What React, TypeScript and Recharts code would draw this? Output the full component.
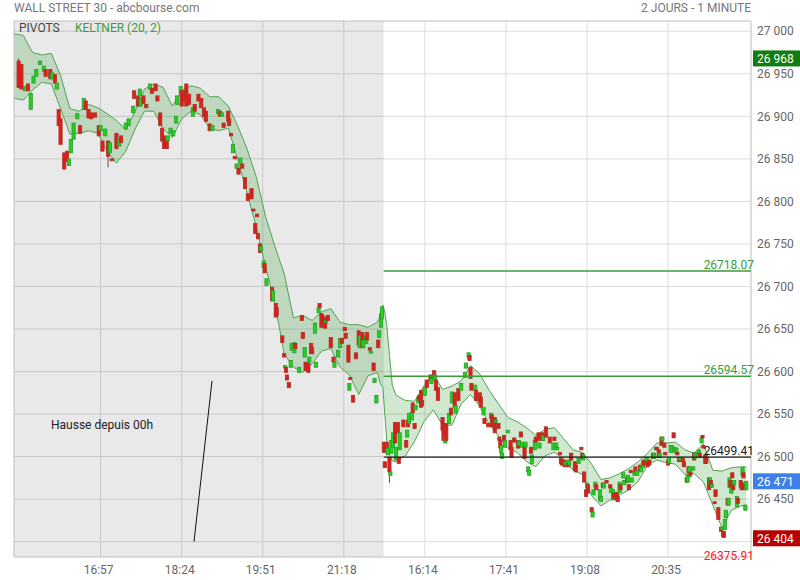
import React from 'react';
import {
  ComposedChart,
  Area,
  Bar,
  XAxis,
  YAxis,
  CartesianGrid,
  ReferenceArea,
  ReferenceLine,
  ReferenceDot,
} from 'recharts';

// ---- axis / labels ----
const timeTicks = [93, 180, 267, 354, 441, 528, 615, 702];
const timeLabels = ['16:57', '18:24', '19:51', '21:18', '16:14', '17:41', '19:08', '20:35'];
const priceTicks = [26400, 26450, 26500, 26550, 26600, 26650, 26700, 26750, 26800, 26850, 26900, 26950, 27000];
const priceDomain = [26382, 27012];
const xMax = 791;
const sessionSplit = 396.8;

// ---- pivots ----
const pivotLevels = [26718.07, 26594.57, 26499.41, 26375.91];
const pivotTexts = ['26718.07', '26594.57', '26499.41', '26375.91'];
const pivotColors = ['#3b9b3b', '#3b9b3b', '#1a1a1a', '#ff2222'];

// ---- price tags (high, last, low) ----
const tagValues = [26968, 26471, 26404];
const tagColors = ['#0f7d0f', '#3f7fe8', '#b80000'];

// ---- Keltner (20, 2) band ----
const bandIdx = [0, 10, 20, 30, 40, 50, 60, 70, 80, 90, 100, 110, 120, 130, 140, 150, 160, 170, 180, 190, 200, 210, 220, 230, 240, 250, 260, 270, 280, 290, 300, 310, 320, 330, 340, 350, 360, 370, 380, 390, 393, 396, 398, 400, 403, 406, 410, 420, 430, 440, 450, 460, 470, 480, 490, 500, 510, 520, 530, 540, 550, 560, 570, 580, 590, 600, 610, 620, 630, 640, 650, 660, 670, 680, 690, 700, 710, 720, 730, 740, 750, 760, 770, 780, 786];
const bandUpper = [26997, 26995, 26975, 26972, 26974, 26948, 26909, 26906, 26914, 26910, 26903, 26895, 26884, 26906, 26932, 26938, 26934, 26912, 26930, 26936, 26933, 26923, 26923, 26912, 26889, 26862, 26829, 26782, 26747, 26715, 26663, 26666, 26660, 26670, 26674, 26658, 26655, 26655, 26652, 26658, 26665, 26678, 26670, 26655, 26619, 26584, 26572, 26566, 26565, 26583, 26597, 26579, 26583, 26589, 26607, 26597, 26578, 26562, 26546, 26541, 26534, 26525, 26532, 26534, 26521, 26508, 26505, 26491, 26473, 26475, 26480, 26486, 26494, 26504, 26516, 26516, 26517, 26508, 26504, 26515, 26484, 26483, 26487, 26488, 26488];
const bandLower = [26921, 26919, 26931, 26940, 26938, 26909, 26879, 26880, 26883, 26880, 26859, 26845, 26859, 26885, 26906, 26906, 26885, 26875, 26897, 26906, 26902, 26886, 26883, 26886, 26850, 26810, 26770, 26723, 26680, 26621, 26605, 26599, 26609, 26624, 26627, 26605, 26596, 26573, 26595, 26599, 26586, 26581, 26549, 26519, 26502, 26495, 26494, 26501, 26518, 26541, 26555, 26537, 26537, 26562, 26573, 26559, 26538, 26524, 26510, 26505, 26494, 26488, 26501, 26505, 26497, 26484, 26479, 26454, 26442, 26449, 26455, 26461, 26471, 26490, 26496, 26493, 26491, 26479, 26480, 26470, 26443, 26416, 26437, 26442, 26443];

// ---- candles, session 1 ----
const day1Idx = [5, 8, 12, 15, 18, 21, 24, 28, 32, 34, 39, 41, 44, 46, 48, 50, 54, 57, 59, 61, 64, 68, 71, 75, 77, 80, 83, 87, 91, 93, 95, 98, 101, 103, 105, 110, 113, 115, 120, 123, 128, 129, 133, 135, 136, 139, 142, 146, 148, 152, 154, 157, 159, 161, 164, 165, 168, 171, 174, 175, 179, 180, 182, 185, 188, 192, 194, 198, 201, 204, 206, 210, 213, 219, 221, 223, 225, 230, 231, 233, 235, 237, 239, 241, 243, 245, 248, 251, 255, 257, 259, 261, 262, 264, 265, 268, 269, 271, 277, 278, 281, 282, 288, 290, 291, 292, 293, 295, 297, 298, 301, 302, 306, 309, 310, 312, 313, 316, 317, 319, 320, 323, 324, 327, 328, 330, 331, 334, 335, 337, 340, 343, 344, 348, 350, 352, 355, 356, 359, 360, 361, 364, 367, 370, 371, 374, 375, 378, 379, 382, 383, 386, 387, 389, 391, 392, 394, 395];
const day1Open = [26965, 26961, 26930, 26938, 26908, 26939, 26947, 26961, 26953, 26955, 26955, 26944, 26949, 26932, 26908, 26897, 26857, 26859, 26842, 26857, 26873, 26897, 26889, 26908, 26918, 26908, 26904, 26904, 26889, 26883, 26871, 26877, 26871, 26857, 26850, 26880, 26865, 26877, 26885, 26889, 26904, 26930, 26924, 26924, 26912, 26924, 26914, 26932, 26933, 26938, 26924, 26904, 26886, 26877, 26871, 26871, 26880, 26877, 26892, 26914, 26927, 26930, 26930, 26938, 26926, 26900, 26914, 26926, 26921, 26910, 26906, 26891, 26883, 26903, 26906, 26900, 26892, 26906, 26897, 26880, 26857, 26853, 26839, 26839, 26845, 26844, 26828, 26809, 26815, 26791, 26774, 26785, 26762, 26750, 26742, 26722, 26727, 26701, 26699, 26683, 26680, 26675, 26642, 26621, 26604, 26605, 26596, 26587, 26605, 26625, 26622, 26633, 26599, 26666, 26646, 26617, 26611, 26610, 26611, 26633, 26628, 26645, 26605, 26669, 26680, 26668, 26666, 26664, 26658, 26666, 26640, 26617, 26605, 26617, 26628, 26639, 26652, 26645, 26631, 26578, 26593, 26572, 26622, 26648, 26628, 26646, 26628, 26633, 26646, 26628, 26622, 26610, 26587, 26563, 26637, 26640, 26652, 26662];
const day1Close = [26934, 26932, 26935, 26930, 26927, 26947, 26955, 26965, 26959, 26947, 26944, 26951, 26939, 26939, 26889, 26867, 26838, 26847, 26850, 26873, 26892, 26903, 26880, 26921, 26908, 26898, 26897, 26899, 26877, 26889, 26859, 26885, 26853, 26869, 26848, 26862, 26873, 26869, 26892, 26897, 26912, 26921, 26912, 26932, 26921, 26915, 26910, 26938, 26927, 26930, 26918, 26889, 26871, 26862, 26862, 26877, 26886, 26883, 26900, 26924, 26935, 26912, 26918, 26912, 26914, 26910, 26906, 26918, 26910, 26900, 26894, 26883, 26889, 26908, 26900, 26904, 26887, 26894, 26889, 26877, 26867, 26850, 26844, 26832, 26851, 26839, 26815, 26801, 26803, 26789, 26762, 26782, 26756, 26740, 26747, 26730, 26716, 26709, 26683, 26695, 26664, 26666, 26634, 26617, 26607, 26599, 26590, 26581, 26613, 26633, 26634, 26627, 26605, 26660, 26639, 26628, 26601, 26599, 26617, 26621, 26621, 26657, 26611, 26675, 26675, 26652, 26660, 26651, 26660, 26660, 26628, 26611, 26611, 26625, 26639, 26633, 26648, 26639, 26611, 26586, 26591, 26564, 26615, 26631, 26642, 26628, 26637, 26642, 26637, 26625, 26624, 26601, 26592, 26572, 26628, 26648, 26668, 26676];

// ---- candles, session 2 ----
const day2Idx = [397, 398, 400, 401, 403, 404, 405, 407, 409, 410, 412, 413, 414, 418, 421, 422, 423, 424, 427, 428, 430, 431, 434, 435, 437, 438, 441, 443, 447, 448, 451, 452, 453, 455, 460, 461, 463, 464, 467, 469, 470, 473, 474, 477, 480, 484, 485, 488, 489, 490, 491, 495, 496, 500, 501, 504, 505, 509, 512, 513, 516, 517, 520, 521, 522, 523, 524, 526, 527, 530, 533, 534, 537, 541, 542, 544, 545, 548, 549, 552, 553, 555, 556, 559, 560, 563, 564, 567, 568, 571, 575, 579, 580, 582, 583, 586, 587, 588, 591, 592, 595, 596, 598, 602, 603, 606, 609, 610, 611, 612, 614, 615, 616, 620, 621, 622, 624, 625, 629, 630, 632, 633, 636, 640, 641, 643, 644, 647, 648, 650, 651, 654, 655, 658, 659, 660, 662, 663, 666, 667, 669, 672, 673, 675, 676, 679, 680, 682, 686, 687, 689, 690, 692, 693, 695, 696, 698, 699, 702, 703, 705, 706, 708, 709, 711, 712, 714, 715, 718, 719, 722, 723, 724, 725, 726, 729, 730, 731, 732, 735, 736, 738, 739, 740, 742, 743, 746, 747, 748, 749, 752, 753, 756, 759, 760, 761, 762, 763, 764, 766, 767, 768, 769, 770, 771, 772, 773, 776, 777, 780, 781, 782, 783, 784, 785, 786];
const day2Open = [26517, 26494, 26517, 26502, 26499, 26478, 26504, 26511, 26540, 26496, 26540, 26499, 26508, 26543, 26519, 26523, 26543, 26539, 26543, 26563, 26539, 26555, 26563, 26572, 26578, 26566, 26572, 26590, 26596, 26586, 26601, 26590, 26590, 26581, 26546, 26531, 26516, 26539, 26539, 26557, 26563, 26575, 26551, 26580, 26578, 26593, 26604, 26616, 26619, 26605, 26586, 26578, 26578, 26575, 26570, 26549, 26545, 26539, 26545, 26549, 26546, 26540, 26539, 26523, 26519, 26504, 26498, 26525, 26511, 26528, 26519, 26511, 26522, 26519, 26513, 26529, 26511, 26511, 26511, 26482, 26478, 26511, 26492, 26508, 26523, 26528, 26510, 26528, 26519, 26535, 26523, 26508, 26523, 26511, 26508, 26505, 26498, 26496, 26496, 26490, 26492, 26490, 26504, 26494, 26490, 26492, 26511, 26504, 26496, 26482, 26461, 26463, 26467, 26440, 26429, 26455, 26464, 26467, 26449, 26447, 26469, 26463, 26472, 26467, 26458, 26449, 26457, 26458, 26453, 26458, 26467, 26475, 26467, 26475, 26470, 26467, 26484, 26470, 26478, 26488, 26478, 26490, 26482, 26487, 26496, 26494, 26494, 26496, 26504, 26498, 26508, 26511, 26508, 26499, 26523, 26519, 26516, 26505, 26496, 26492, 26505, 26508, 26528, 26505, 26504, 26505, 26499, 26496, 26498, 26494, 26475, 26470, 26488, 26476, 26482, 26484, 26504, 26498, 26502, 26504, 26504, 26516, 26525, 26513, 26502, 26498, 26475, 26469, 26472, 26464, 26447, 26461, 26440, 26417, 26414, 26412, 26412, 26414, 26428, 26451, 26443, 26464, 26472, 26457, 26481, 26469, 26467, 26441, 26451, 26472, 26469, 26478, 26481, 26469, 26437, 26461];
const day2Close = [26505, 26487, 26505, 26510, 26482, 26482, 26519, 26528, 26516, 26511, 26528, 26492, 26528, 26535, 26511, 26531, 26535, 26551, 26552, 26552, 26533, 26560, 26570, 26566, 26558, 26560, 26581, 26581, 26590, 26592, 26593, 26596, 26578, 26566, 26531, 26519, 26523, 26519, 26551, 26549, 26576, 26558, 26560, 26566, 26586, 26599, 26610, 26622, 26613, 26592, 26578, 26584, 26566, 26564, 26558, 26558, 26539, 26535, 26551, 26535, 26528, 26543, 26533, 26519, 26510, 26513, 26504, 26519, 26519, 26531, 26508, 26499, 26517, 26510, 26519, 26523, 26517, 26498, 26517, 26488, 26484, 26504, 26502, 26519, 26517, 26519, 26516, 26519, 26525, 26523, 26516, 26516, 26519, 26516, 26511, 26502, 26492, 26490, 26488, 26494, 26488, 26496, 26496, 26484, 26482, 26498, 26508, 26498, 26502, 26470, 26453, 26469, 26457, 26435, 26435, 26461, 26470, 26461, 26461, 26453, 26464, 26469, 26469, 26463, 26463, 26461, 26451, 26449, 26447, 26470, 26461, 26481, 26472, 26470, 26478, 26461, 26481, 26475, 26482, 26482, 26484, 26484, 26488, 26494, 26490, 26499, 26488, 26490, 26498, 26504, 26511, 26508, 26499, 26504, 26513, 26523, 26511, 26502, 26490, 26498, 26513, 26513, 26522, 26511, 26510, 26502, 26494, 26499, 26494, 26488, 26470, 26478, 26481, 26488, 26478, 26488, 26496, 26504, 26505, 26508, 26499, 26522, 26522, 26510, 26492, 26492, 26461, 26475, 26464, 26467, 26445, 26453, 26426, 26412, 26417, 26406, 26405, 26426, 26437, 26443, 26451, 26475, 26464, 26464, 26475, 26461, 26472, 26453, 26445, 26464, 26461, 26487, 26475, 26461, 26443, 26471];

// ---- visible wicks ----
const wickIdx = [5, 101, 403, 761];
const wickHigh = [26968, 26871, 26499, 26412];
const wickLow = [26934, 26840, 26469, 26404];

// ---- annotation ----
const noteText = 'Hausse depuis 00h';
const notePos = { x: 39.7, y: 26537 };
const trendFrom = { x: 193.2, y: 26400 };
const trendTo = { x: 212.5, y: 26589 };

type Row = { i: number; band?: [number, number]; o?: number; c?: number; hi?: number; lo?: number };

function buildRows(): Row[] {
  const map = new Map<number, Row>();
  const get = (i: number) => {
    if (!map.has(i)) map.set(i, { i });
    return map.get(i)!;
  };
  bandIdx.forEach((i, k) => {
    get(i).band = [bandLower[k], bandUpper[k]];
  });
  const add = (idx: number[], op: number[], cl: number[]) =>
    idx.forEach((i, k) => {
      const r = get(i);
      r.o = op[k];
      r.c = cl[k];
      r.hi = Math.max(op[k], cl[k]);
      r.lo = Math.min(op[k], cl[k]);
    });
  add(day1Idx, day1Open, day1Close);
  add(day2Idx, day2Open, day2Close);
  wickIdx.forEach((i, k) => {
    const r = get(i);
    if (r.hi != null) r.hi = Math.max(r.hi, wickHigh[k]);
    if (r.lo != null) r.lo = Math.min(r.lo, wickLow[k]);
  });
  return Array.from(map.values()).sort((a, b) => a.i - b.i);
}

const rows = buildRows();

const GREEN = '#1fd41f';
const GREEN_D = '#2b9a2b';
const RED = '#e01d1d';
const RED_D = '#a83222';
const CANDLE_W = 4;

const CandleShape = (props: any) => {
  const { x, y, width, height, payload } = props;
  if (!payload || payload.o == null || x == null || y == null || isNaN(y)) return null;
  let top = y;
  let h = height || 0;
  if (h < 0) {
    top = y + h;
    h = -h;
  }
  const { o, c, hi, lo } = payload;
  const span = hi - lo;
  const py = (v: number) => (span > 0 ? top + ((hi - v) / span) * h : top);
  const up = c >= o;
  const bTop = py(Math.max(o, c));
  const bBot = py(Math.min(o, c));
  const cx = x + (width || 0) / 2;
  const hasWick = hi > Math.max(o, c) || lo < Math.min(o, c);
  return (
    <g>
      {hasWick && <line x1={cx} x2={cx} y1={top} y2={top + h} stroke="#555" strokeWidth={1} />}
      <rect
        x={cx - CANDLE_W / 2 + 0.4}
        y={bTop}
        width={CANDLE_W - 0.8}
        height={Math.max(bBot - bTop, 2)}
        fill={up ? GREEN : RED}
        stroke={up ? GREEN_D : RED_D}
        strokeWidth={0.8}
      />
    </g>
  );
};

const fmtPrice = (v: number) => {
  const th = Math.floor(v / 1000);
  const rest = String(Math.round(v) % 1000).padStart(3, '0');
  return `${th} ${rest}`;
};

// axis labels hidden behind a price tag are not drawn
const fmtAxisPrice = (v: number) => (tagValues.some((t) => Math.abs(t - v) < 10) ? '' : fmtPrice(v));

const font = 'Roboto, "Noto Sans", sans-serif';

export default function App() {
  return (
    <div style={{ position: 'absolute', left: 0, top: 0, width: 800, height: 580, background: '#fff', fontFamily: font }}>
      <ComposedChart
        width={800}
        height={580}
        data={rows}
        margin={{ top: 21, right: 0, bottom: 0, left: 14 }}
        style={{ fontFamily: font }}
      >
        <CartesianGrid stroke="#dcdcdc" strokeWidth={1} />
        <ReferenceArea x1={0} x2={sessionSplit} fill="#000" fillOpacity={0.085} stroke="none" ifOverflow="visible" />
        <XAxis
          dataKey="i"
          type="number"
          domain={[0, xMax]}
          ticks={timeTicks}
          tickFormatter={(v: number) => timeLabels[timeTicks.indexOf(v)] ?? ''}
          axisLine={false}
          tickLine={false}
          tickSize={0}
          tickMargin={8}
          height={23}
          interval={0}
          allowDataOverflow
          tick={{ fill: '#666', fontSize: 12, dx: -2 }}
        />
        <YAxis
          orientation="right"
          type="number"
          domain={priceDomain}
          ticks={priceTicks}
          allowDataOverflow
          tickFormatter={fmtAxisPrice}
          axisLine={false}
          tickLine={false}
          tickSize={0}
          tickMargin={6}
          width={49}
          interval={0}
          tick={{ fill: '#666', fontSize: 12, textAnchor: 'start' }}
        />
        <Area
          dataKey={(d: Row) => (d.band ? d.band : [null, null])}
          type="linear"
          connectNulls
          stroke="#52a352"
          strokeWidth={1}
          fill="rgb(60,160,60)"
          fillOpacity={0.24}
          isAnimationActive={false}
          dot={false}
          activeDot={false}
        />
        {pivotLevels.map((v, k) => (
          <ReferenceLine
            key={pivotTexts[k]}
            segment={[
              { x: sessionSplit, y: v },
              { x: xMax, y: v },
            ]}
            stroke={k === 3 ? 'none' : pivotColors[k]}
            strokeWidth={k === 2 ? 1.2 : 1.5}
            ifOverflow={k === 3 ? 'hidden' : 'visible'}
            label={(p: any) => {
              const vb = p.viewBox || {};
              return (
                <text
                  x={(vb.x ?? 0) + (vb.width ?? 0) + 3}
                  y={(vb.y ?? 0) - 2.5}
                  textAnchor="end"
                  fill={pivotColors[k]}
                  fontSize={12}
                  fontFamily={font}
                >
                  {pivotTexts[k]}
                </text>
              );
            }}
          />
        ))}
        <Bar
          dataKey={(d: Row) => (d.o != null ? [d.lo, d.hi] : null)}
          barSize={4}
          shape={CandleShape}
          isAnimationActive={false}
        />
        <ReferenceLine
          segment={[trendFrom, trendTo]}
          stroke="#111"
          strokeWidth={1}
          ifOverflow="visible"
        />
        <ReferenceDot
          x={notePos.x}
          y={notePos.y}
          r={0}
          ifOverflow="visible"
          shape={(p: any) => (
            <text x={p.cx} y={p.cy + 4} fill="#222" fontSize={12} fontFamily={font}>
              {noteText}
            </text>
          )}
        />
        <ReferenceArea x1={0} x2={xMax} fill="none" stroke="#cfcfcf" strokeWidth={1} ifOverflow="visible" />
        {tagValues.map((v, k) => (
          <ReferenceDot
            key={v}
            x={xMax}
            y={v}
            r={0}
            ifOverflow="visible"
            shape={(p: any) => (
              <g>
                <rect x={p.cx + 2} y={p.cy - 8} width={48} height={16} fill={tagColors[k]} />
                <text x={p.cx + 6} y={p.cy + 4.5} fill="#fff" fontSize={12} fontFamily={font}>
                  {fmtPrice(v)}
                </text>
              </g>
            )}
          />
        ))}
      </ComposedChart>
      <div style={{ position: 'absolute', left: 14, top: 1, fontSize: 12, lineHeight: '14px', color: '#777', whiteSpace: 'nowrap' }}>
        WALL STREET 30 - abcbourse.com
      </div>
      <div style={{ position: 'absolute', right: 49, top: 1, fontSize: 12, lineHeight: '14px', color: '#777', whiteSpace: 'nowrap' }}>
        2 JOURS - 1 MINUTE
      </div>
      <div style={{ position: 'absolute', left: 19, top: 21, fontSize: 12, lineHeight: '14px', color: '#444', whiteSpace: 'nowrap' }}>
        PIVOTS
      </div>
      <div style={{ position: 'absolute', left: 75, top: 21, fontSize: 12, lineHeight: '14px', color: '#3d9c3d', whiteSpace: 'nowrap' }}>
        KELTNER (20, 2)
      </div>
    </div>
  );
}
